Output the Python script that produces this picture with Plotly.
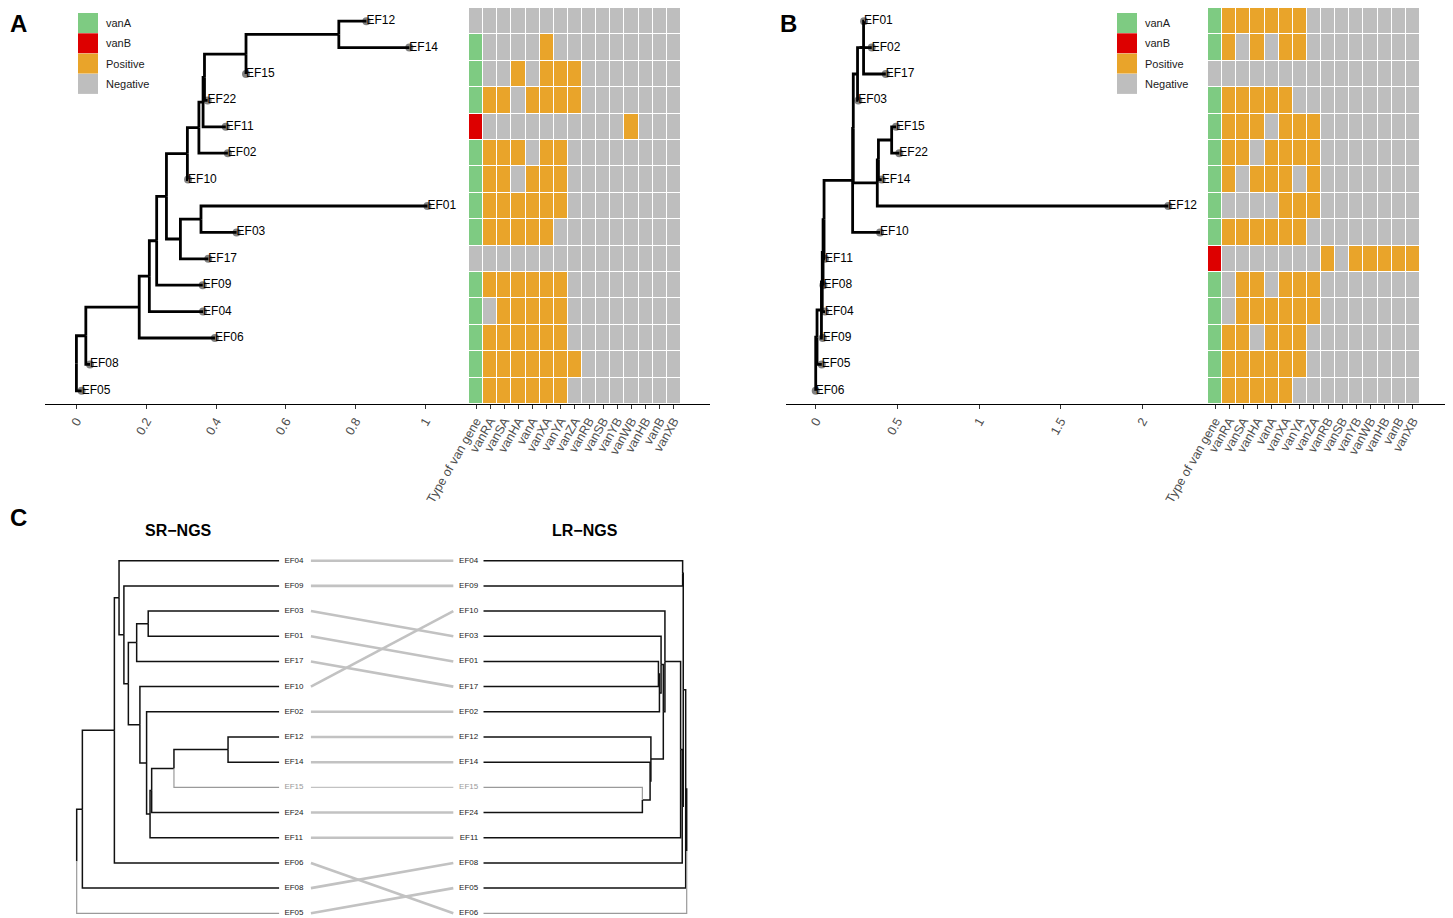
import plotly.graph_objects as go

# page is 1453x918; the html body adds an 8px margin around the figure
PAGE_W, PAGE_H, OFF = 1453, 918, 8
W, H = PAGE_W - 2 * OFF, PAGE_H - OFF

GENES = ["vanRA", "vanSA", "vanHA", "vanA", "vanXA", "vanYA", "vanZA",
         "vanRB", "vanSB", "vanYB", "vanWB", "vanHB", "vanB", "vanXB"]
HEAT_COLS = ["Type of van gene"] + GENES

# ---- panel A: SR-NGS tree + van genes ----
A_TIPS = ["EF12", "EF14", "EF15", "EF22", "EF11", "EF02", "EF10", "EF01",
          "EF03", "EF17", "EF09", "EF04", "EF06", "EF08", "EF05"]
A_TYPE = ["Negative", "vanA", "vanA", "vanA", "vanB", "vanA", "vanA", "vanA",
          "vanA", "Negative", "vanA", "vanA", "vanA", "vanA", "vanA"]
A_HITS = [
    [0, 0, 0, 0, 0, 0, 0, 0, 0, 0, 0, 0, 0, 0],
    [0, 0, 0, 0, 1, 0, 0, 0, 0, 0, 0, 0, 0, 0],
    [0, 0, 1, 0, 1, 1, 1, 0, 0, 0, 0, 0, 0, 0],
    [1, 1, 0, 1, 1, 1, 1, 0, 0, 0, 0, 0, 0, 0],
    [0, 0, 0, 0, 0, 0, 0, 0, 0, 0, 1, 0, 0, 0],
    [1, 1, 1, 0, 1, 1, 0, 0, 0, 0, 0, 0, 0, 0],
    [1, 1, 0, 1, 1, 1, 0, 0, 0, 0, 0, 0, 0, 0],
    [1, 1, 1, 1, 1, 1, 0, 0, 0, 0, 0, 0, 0, 0],
    [1, 1, 1, 1, 1, 0, 0, 0, 0, 0, 0, 0, 0, 0],
    [0, 0, 0, 0, 0, 0, 0, 0, 0, 0, 0, 0, 0, 0],
    [1, 1, 1, 1, 1, 1, 0, 0, 0, 0, 0, 0, 0, 0],
    [0, 1, 1, 1, 1, 1, 0, 0, 0, 0, 0, 0, 0, 0],
    [1, 1, 1, 1, 1, 1, 0, 0, 0, 0, 0, 0, 0, 0],
    [1, 1, 1, 1, 1, 1, 1, 0, 0, 0, 0, 0, 0, 0],
    [1, 1, 1, 1, 1, 1, 0, 0, 0, 0, 0, 0, 0, 0],
]
A_NODE = ["EF12", "EF14", "EF15", "EF22", "EF11", "EF02", "EF10", "EF01",
          "EF03", "EF17", "EF09", "EF04", "EF06", "EF08", "EF05",
          "r", "a1", "a2", "a3", "a4", "a5", "a6", "a7", "a8", "a9", "a10",
          "a11", "a12", "a13"]
A_PARENT = ["a12", "a12", "a11", "a10", "a9", "a8", "a6", "a13",
            "a13", "a7", "a4", "a3", "a2", "a1", "r",
            None, "r", "a1", "a2", "a3", "a4", "a5", "a5", "a6", "a8", "a9",
            "a10", "a11", "a7"]
A_X = [0.831, 0.954, 0.486, 0.376, 0.428, 0.434, 0.320, 1.006,
       0.459, 0.378, 0.362, 0.363, 0.397, 0.039, 0.015,
       0.0, 0.027, 0.180, 0.209, 0.230, 0.258, 0.318, 0.298, 0.351, 0.363,
       0.367, 0.486, 0.752, 0.357]
A_TICKS = [0, 0.2, 0.4, 0.6, 0.8, 1]
A_TICKTEXT = ["0", "0.2", "0.4", "0.6", "0.8", "1"]

# ---- panel B: LR-NGS tree + van genes ----
B_TIPS = ["EF01", "EF02", "EF17", "EF03", "EF15", "EF22", "EF14", "EF12",
          "EF10", "EF11", "EF08", "EF04", "EF09", "EF05", "EF06"]
B_TYPE = ["vanA", "vanA", "Negative", "vanA", "vanA", "vanA", "vanA", "vanA",
          "vanA", "vanB", "vanA", "vanA", "vanA", "vanA", "vanA"]
B_HITS = [
    [1, 1, 1, 1, 1, 1, 0, 0, 0, 0, 0, 0, 0, 0],
    [1, 0, 1, 0, 1, 1, 0, 0, 0, 0, 0, 0, 0, 0],
    [0, 0, 0, 0, 0, 0, 0, 0, 0, 0, 0, 0, 0, 0],
    [1, 1, 1, 1, 1, 0, 0, 0, 0, 0, 0, 0, 0, 0],
    [1, 1, 1, 0, 1, 1, 1, 0, 0, 0, 0, 0, 0, 0],
    [1, 1, 0, 1, 1, 1, 1, 0, 0, 0, 0, 0, 0, 0],
    [1, 0, 1, 1, 1, 0, 1, 0, 0, 0, 0, 0, 0, 0],
    [0, 0, 0, 0, 1, 1, 1, 0, 0, 0, 0, 0, 0, 0],
    [1, 1, 1, 1, 1, 1, 0, 0, 0, 0, 0, 0, 0, 0],
    [0, 0, 0, 0, 0, 0, 0, 1, 0, 1, 1, 1, 1, 1],
    [0, 1, 1, 0, 1, 1, 1, 0, 0, 0, 0, 0, 0, 0],
    [0, 1, 1, 1, 1, 1, 1, 0, 0, 0, 0, 0, 0, 0],
    [1, 1, 0, 1, 1, 1, 0, 0, 0, 0, 0, 0, 0, 0],
    [1, 1, 1, 1, 1, 1, 0, 0, 0, 0, 0, 0, 0, 0],
    [1, 1, 1, 1, 1, 0, 0, 0, 0, 0, 0, 0, 0, 0],
]
B_NODE = ["EF01", "EF02", "EF17", "EF03", "EF15", "EF22", "EF14", "EF12",
          "EF10", "EF11", "EF08", "EF04", "EF09", "EF05", "EF06",
          "r", "w5", "w4", "w3", "w2", "w1", "q1", "q2", "v3", "v2", "v1",
          "s1", "s2", "t"]
B_PARENT = ["v1", "v2", "v1", "v3", "t", "t", "s2", "s1",
            "q1", "w1", "w2", "w3", "w4", "w5", "r",
            None, "r", "w5", "w4", "w3", "w2", "w1", "q1", "q2", "v3", "v2",
            "q2", "s1", "s2"]
B_X = [0.296, 0.343, 0.429, 0.261, 0.492, 0.512, 0.404, 2.159,
       0.394, 0.057, 0.047, 0.057, 0.043, 0.037, 0.0,
       0.0, 0.008, 0.035, 0.040, 0.045, 0.051, 0.226, 0.230, 0.256, 0.267,
       0.293, 0.377, 0.384, 0.465]
B_TICKS = [0, 0.5, 1, 1.5, 2]
B_TICKTEXT = ["0", "0.5", "1", "1.5", "2"]

# ---- panel C: tanglegram (heights, root = 1) ----
CL_TIPS = ["EF04", "EF09", "EF03", "EF01", "EF17", "EF10", "EF02", "EF12",
           "EF14", "EF15", "EF24", "EF11", "EF06", "EF08", "EF05"]
CL_NODE = CL_TIPS + ["r", "n1", "n2", "n3", "n4", "n5", "n6", "n7", "n8",
                     "n9", "n10b", "n10", "n11", "n12"]
CL_PARENT = ["n3", "n4", "n8", "n8", "n6", "n7", "n9", "n12",
             "n12", "n11", "n10", "n10b", "n2", "n1", "r",
             None, "r", "n1", "n2", "n3", "n4", "n5", "n5", "n6",
             "n7", "n9", "n10b", "n10", "n11"]
CL_H = [0] * 15 + [1.0, 0.972, 0.814, 0.791, 0.767, 0.745, 0.704, 0.688,
                   0.647, 0.655, 0.638, 0.630, 0.520, 0.253]
CL_GRAY = ["EF15", "EF05"]

CR_TIPS = ["EF04", "EF09", "EF10", "EF03", "EF01", "EF17", "EF02", "EF12",
           "EF14", "EF15", "EF24", "EF11", "EF08", "EF05", "EF06"]
CR_NODE = CR_TIPS + ["r", "j5", "j4", "j3", "j2", "j1", "k5", "k4", "k3",
                     "k2", "k1", "l3", "l2", "l1"]
CR_PARENT = ["j3", "j3", "k5", "k3", "k1", "k1", "k2", "l3",
             "l2", "l1", "l1", "j1", "j2", "j5", "r",
             None, "r", "j5", "j4", "j4", "j2", "j1", "k5", "k4",
             "k3", "k2", "k4", "l3", "l2"]
CR_H = [0] * 15 + [1.0, 0.995, 0.983, 0.980, 0.978, 0.970, 0.893, 0.885,
                   0.874, 0.866, 0.861, 0.824, 0.820, 0.782]
CR_GRAY = ["EF15", "EF06"]

COLORS = {"vanA": "#7ECB82", "vanB": "#DD0000", "Positive": "#E9A42A",
          "Negative": "#BEBEBE"}
FONT = "Liberation Sans, Arial, Helvetica, sans-serif"


def layout_tree(nodes, parents, xs, tips):
    x = dict(zip(nodes, xs))
    par = dict(zip(nodes, parents))
    kids = {}
    for n, p in par.items():
        if p is not None:
            kids.setdefault(p, []).append(n)
    y = {t: i for i, t in enumerate(tips)}

    def gety(n):
        if n not in y:
            y[n] = sum(gety(c) for c in kids[n]) / len(kids[n])
        return y[n]
    for n in nodes:
        gety(n)
    return x, y, par


def elbows(x, y, par, only=None, skip=()):
    xs, ys = [], []
    for n, p in par.items():
        if p is None or n in skip:
            continue
        if only is not None and n not in only:
            continue
        xs += [x[p], x[p], x[n], None]
        ys += [y[p], y[n], y[n], None]
    return xs, ys


# page pixel -> paper fraction
def px(a):
    return (a - OFF) / W


def py(b):
    return 1 - (b - OFF) / H


def dx(a, b):
    return [max(0, px(a)), min(1, px(b))]


def dy(top, bottom):
    return [max(0, py(bottom)), min(1, py(top))]


def heat_z(types, hits):
    code = {"Negative": 0, "Positive": 1, "vanA": 2, "vanB": 3}
    return [[code[t]] + row for t, row in zip(types, hits)]


scale = [[0, COLORS["Negative"]], [0.25, COLORS["Negative"]],
         [0.25, COLORS["Positive"]], [0.5, COLORS["Positive"]],
         [0.5, COLORS["vanA"]], [0.75, COLORS["vanA"]],
         [0.75, COLORS["vanB"]], [1, COLORS["vanB"]]]

fig = go.Figure()

for tips, types, hits, nodes, parents, xs, xa, xh in [
    (A_TIPS, A_TYPE, A_HITS, A_NODE, A_PARENT, A_X, "x", "x2"),
    (B_TIPS, B_TYPE, B_HITS, B_NODE, B_PARENT, B_X, "x3", "x4"),
]:
    ya = xa.replace("x", "y")
    yh = xh.replace("x", "y")
    x, y, par = layout_tree(nodes, parents, xs, tips)
    fig.add_trace(go.Scatter(
        x=[x[t] for t in tips], y=[y[t] for t in tips], mode="markers",
        marker=dict(size=8, color="rgba(115,115,115,0.9)"),
        xaxis=xa, yaxis=ya, showlegend=False, hoverinfo="skip"))
    ex, ey = elbows(x, y, par)
    fig.add_trace(go.Scatter(
        x=ex, y=ey, mode="lines", line=dict(color="black", width=2.8),
        xaxis=xa, yaxis=ya, showlegend=False, hoverinfo="skip"))
    fig.add_trace(go.Scatter(
        x=[x[t] for t in tips], y=[y[t] for t in tips], mode="text",
        text=tips, textposition="middle right",
        textfont=dict(family=FONT, size=12, color="black"),
        xaxis=xa, yaxis=ya, showlegend=False, hoverinfo="skip"))
    fig.add_trace(go.Heatmap(
        z=heat_z(types, hits), x=list(range(len(HEAT_COLS))),
        y=list(range(len(tips))), colorscale=scale, zmin=-0.5, zmax=3.5,
        xgap=1, ygap=1, showscale=False, xaxis=xh, yaxis=yh,
        hoverinfo="skip"))

# panel C
xl, yl, pl = layout_tree(CL_NODE, CL_PARENT, CL_H, CL_TIPS)
xr, yr, pr = layout_tree(CR_NODE, CR_PARENT, CR_H, CR_TIPS)
for (x, y, par, gray, xa, ya) in [(xl, yl, pl, CL_GRAY, "x5", "y5"),
                                  (xr, yr, pr, CR_GRAY, "x7", "y7")]:
    ex, ey = elbows(x, y, par, skip=gray)
    fig.add_trace(go.Scatter(
        x=ex, y=ey, mode="lines", line=dict(color="#111111", width=1.5),
        xaxis=xa, yaxis=ya, showlegend=False, hoverinfo="skip"))
    ex, ey = elbows(x, y, par, only=gray)
    fig.add_trace(go.Scatter(
        x=ex, y=ey, mode="lines", line=dict(color="#9A9A9A", width=1.2),
        xaxis=xa, yaxis=ya, showlegend=False, hoverinfo="skip"))

# connectors between the two label columns
for t in CL_TIPS:
    thin = t in CL_GRAY and t in CR_GRAY
    fig.add_trace(go.Scatter(
        x=[0.155, 0.853], y=[yl[t], yr[t]], mode="lines",
        line=dict(color="#C2C2C2", width=1.2 if thin else 2.6),
        xaxis="x6", yaxis="y6", showlegend=False, hoverinfo="skip"))
lab_col = ["#9A9A9A" if t == "EF15" else "#222222" for t in CL_TIPS]
fig.add_trace(go.Scatter(
    x=[0.025] * len(CL_TIPS), y=[yl[t] for t in CL_TIPS], mode="text",
    text=CL_TIPS, textposition="middle right",
    textfont=dict(family=FONT, size=8, color=lab_col),
    xaxis="x6", yaxis="y6", showlegend=False, hoverinfo="skip"))
lab_col = ["#9A9A9A" if t == "EF15" else "#222222" for t in CR_TIPS]
fig.add_trace(go.Scatter(
    x=[0.975] * len(CR_TIPS), y=[yr[t] for t in CR_TIPS], mode="text",
    text=CR_TIPS, textposition="middle left",
    textfont=dict(family=FONT, size=8, color=lab_col),
    xaxis="x6", yaxis="y6", showlegend=False, hoverinfo="skip"))

tickfont = dict(family=FONT, size=12.5, color="#4D4D4D")
axis_common = dict(showline=True, linecolor="black", linewidth=1,
                   ticks="outside", ticklen=4, tickcolor="#333333",
                   tickangle=-60, tickfont=tickfont, showgrid=False,
                   zeroline=False, fixedrange=True, automargin=False)
hidden = dict(visible=False, showgrid=False, zeroline=False, fixedrange=True)
n_cols = len(HEAT_COLS)
ab_dom = dy(3, 404)
c_dom = dy(548.1, 918)
c_rng = [14.187, -0.5]

fig.update_layout(
    width=W, height=H, autosize=False,
    margin=dict(l=0, r=0, t=0, b=0, pad=0, autoexpand=False),
    paper_bgcolor="white", plot_bgcolor="white",
    font=dict(family=FONT), showlegend=False,
    xaxis=dict(domain=dx(45, 469), range=[-0.09, 1.125], anchor="y",
               tickvals=A_TICKS, ticktext=A_TICKTEXT, **axis_common),
    yaxis=dict(domain=ab_dom, range=[14.5, -0.5], anchor="x", **hidden),
    xaxis2=dict(domain=dx(469, 710), range=[-0.5, 16.56], anchor="y2",
                tickvals=list(range(n_cols)), ticktext=HEAT_COLS,
                **axis_common),
    yaxis2=dict(domain=ab_dom, range=[14.5, -0.5], anchor="x2", **hidden),
    xaxis3=dict(domain=dx(786, 1208), range=[-0.182, 2.402], anchor="y3",
                tickvals=B_TICKS, ticktext=B_TICKTEXT, **axis_common),
    yaxis3=dict(domain=ab_dom, range=[14.5, -0.5], anchor="x3", **hidden),
    xaxis4=dict(domain=dx(1208, 1445), range=[-0.5, 16.27], anchor="y4",
                tickvals=list(range(n_cols)), ticktext=HEAT_COLS,
                **axis_common),
    yaxis4=dict(domain=ab_dom, range=[14.5, -0.5], anchor="x4", **hidden),
    xaxis5=dict(domain=dx(60, 279.3), range=[1.0824, 0], anchor="y5", **hidden),
    yaxis5=dict(domain=c_dom, range=c_rng, anchor="x5", **hidden),
    xaxis6=dict(domain=dx(279.3, 483.3), range=[0, 1], anchor="y6", **hidden),
    yaxis6=dict(domain=c_dom, range=c_rng, anchor="x6", **hidden),
    xaxis7=dict(domain=dx(483.3, 700), range=[0, 1.0654], anchor="y7", **hidden),
    yaxis7=dict(domain=c_dom, range=c_rng, anchor="x7", **hidden),
)

# colour keys for panels A and B
shapes, annos = [], []
for x0 in (78, 1117):
    for i, key in enumerate(["vanA", "vanB", "Positive", "Negative"]):
        top = 13 + i * 20.3
        shapes.append(dict(type="rect", xref="paper", yref="paper",
                           x0=px(x0), x1=px(x0 + 20),
                           y0=py(top + 20), y1=py(top),
                           fillcolor=COLORS[key], line=dict(width=0)))
        annos.append(dict(x=px(x0 + 26), y=py(top + 10),
                          xref="paper", yref="paper", text=key,
                          showarrow=False, xanchor="left", yanchor="middle",
                          font=dict(family=FONT, size=11, color="#1A1A1A")))

# panel letters, kept just inside the figure's top/left edge
for letter, lx, ly in [("A", 9, 9), ("B", 779, 9), ("C", 9, 503)]:
    annos.append(dict(x=px(lx), y=py(ly), xref="paper", yref="paper",
                      text="<b>%s</b>" % letter, showarrow=False,
                      xanchor="left", yanchor="top", borderpad=0,
                      font=dict(family=FONT, size=24, color="black")))
for title, tx in [("SR\u2212NGS", 178), ("LR\u2212NGS", 585)]:
    annos.append(dict(x=px(tx), y=py(530), xref="paper", yref="paper",
                      text="<b>%s</b>" % title, showarrow=False,
                      xanchor="center", yanchor="middle",
                      font=dict(family=FONT, size=16, color="black")))

fig.update_layout(shapes=shapes, annotations=annos)

fig.write_html("out.html")
